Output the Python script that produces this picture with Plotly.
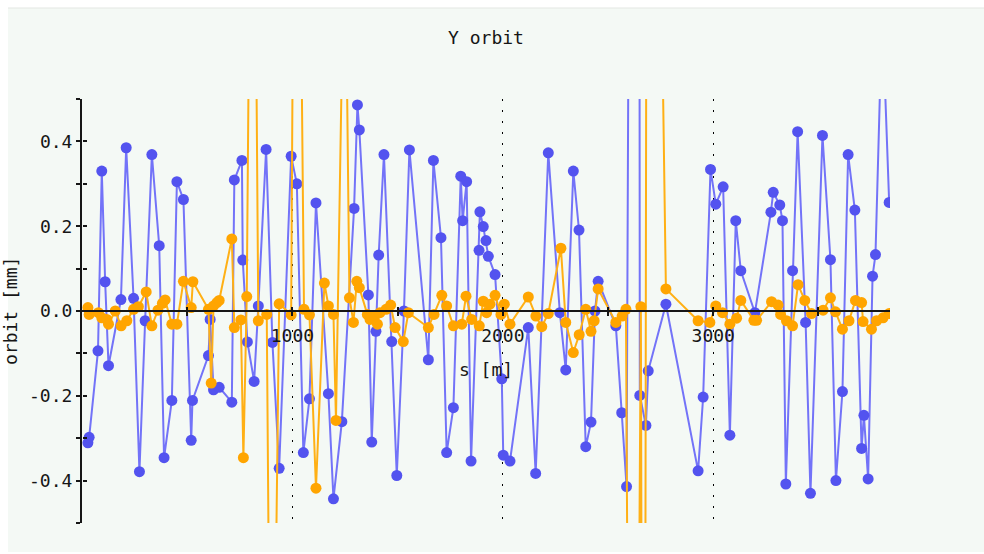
import plotly.graph_objects as go

# Beam position monitors: longitudinal position s [m] and vertical orbit [mm]
blue_s = [28, 34, 76, 94, 110, 126, 185, 210, 245, 273, 300, 332, 367, 390, 427, 451, 482, 519, 525, 601,
          609, 625, 652, 712, 724, 760, 764, 786, 818, 838, 875, 905, 937, 994, 1021, 1052, 1081, 1112, 1171, 1195,
          1235, 1293, 1309, 1318, 1361, 1377, 1397, 1410, 1435, 1472, 1496, 1530, 1556, 1646, 1670, 1706, 1733, 1765, 1800, 1809,
          1828, 1849, 1887, 1891, 1907, 1920, 1931, 1963, 1995, 2002, 2034, 2121, 2156, 2216, 2271, 2299, 2335, 2362, 2394, 2419,
          2438, 2453, 2537, 2565, 2588, 2642, 2651, 2680, 2691, 2775, 2928, 2952, 2987, 3012, 3047, 3079, 3107, 3131, 3198, 3274,
          3285, 3316, 3329, 3345, 3377, 3401, 3439, 3462, 3519, 3557, 3583, 3614, 3641, 3673, 3705, 3716, 3736, 3757, 3771, 3803,
          3836]
blue_y = [-0.311, -0.298, -0.094, 0.330, 0.069, -0.129, 0.027, 0.385, 0.030, -0.379, -0.023, 0.369, 0.154, -0.346, -0.211, 0.305, 0.263, -0.305, -0.211, -0.105,
          -0.020, -0.186, -0.180, -0.215, 0.309, 0.355, 0.120, -0.073, -0.166, 0.012, 0.381, -0.074, -0.371, 0.365, 0.300, -0.334, -0.207, 0.255, -0.195, -0.443,
          -0.261, 0.242, 0.486, 0.427, 0.038, -0.309, -0.048, 0.132, 0.369, -0.072, -0.388, 0.000, 0.380, -0.115, 0.355, 0.173, -0.334, -0.228, 0.318, 0.213,
          0.305, -0.354, 0.143, 0.234, 0.199, 0.166, 0.129, 0.086, -0.160, -0.340, -0.354, -0.039, -0.383, 0.373, -0.004, -0.139, 0.330, 0.191, -0.320, -0.262,
          0.000, 0.070, -0.035, -0.240, -0.414, 6.0, -0.199, -0.270, -0.141, 0.016, -0.377, -0.203, 0.334, 0.252, 0.293, -0.293, 0.213, 0.095, -0.004, 0.233,
          0.280, 0.250, 0.213, -0.408, 0.095, 0.423, -0.027, -0.430, 0.414, 0.121, -0.400, -0.190, 0.369, 0.238, -0.324, -0.246, -0.396, 0.082, 0.133, 0.71,
          0.256]

orange_s = [28, 34, 78, 94, 118, 126, 158, 186, 213, 245, 268, 305, 332, 361, 382, 395, 427, 451, 482, 519,
            527, 601, 614, 625, 641, 652, 712, 724, 755, 767, 783, 811, 838, 878, 901, 937, 994, 1017, 1055, 1081,
            1112, 1152, 1171, 1195, 1207, 1249, 1271, 1290, 1306, 1318, 1356, 1369, 1389, 1404, 1416, 1445, 1467, 1488, 1527, 1551,
            1646, 1673, 1710, 1733, 1765, 1805, 1825, 1852, 1888, 1907, 1923, 1939, 1963, 1991, 2007, 2034, 2121, 2157, 2185, 2216,
            2276, 2299, 2335, 2363, 2394, 2419, 2434, 2453, 2537, 2567, 2585, 2618, 2656, 2670, 2689, 2775, 2928, 2984, 3012, 3044,
            3079, 3111, 3131, 3193, 3206, 3277, 3308, 3320, 3348, 3377, 3403, 3435, 3467, 3522, 3557, 3581, 3614, 3645, 3676, 3705,
            3712, 3752, 3776, 3807, 3836]
orange_y = [0.008, -0.008, -0.004, -0.016, -0.020, -0.031, 0.000, -0.035, -0.023, 0.004, 0.010, 0.045, -0.035, 0.002, 0.018, 0.026, -0.031, -0.031, 0.070, 0.008,
            0.069, 0.004, -0.170, 0.012, 0.020, 0.025, 0.170, -0.039, -0.021, -0.346, 0.034, 1.72, -0.023, -0.008, -1.45, 0.017, -0.009, 1.95, 0.004, -0.009,
            -0.418, 0.066, 0.012, -0.008, -0.258, 1.00, 0.031, -0.027, 0.070, 0.055, -0.008, -0.020, -0.012, -0.031, -0.004, 0.004, 0.014, -0.039, -0.072, -0.004,
            -0.039, -0.008, 0.037, 0.012, -0.035, -0.031, 0.035, -0.020, -0.035, 0.023, -0.004, 0.016, 0.037, -0.008, 0.016, -0.031, 0.033, -0.012, -0.037, -0.006,
            0.148, -0.027, -0.098, -0.056, 0.004, -0.048, -0.023, 0.052, -0.027, -0.012, 0.004, -3.0, 0.010, -3.0, 3.0, 0.052, -0.023, -0.027, 0.012, -0.004,
            -0.031, -0.017, 0.025, -0.022, -0.022, 0.022, 0.014, -0.008, -0.023, -0.035, 0.062, 0.025, -0.006, 0.002, 0.031, -0.002, -0.043, -0.023, 0.025, 0.020,
            -0.025, -0.043, -0.023, -0.016, -0.006]

assert len(blue_s) == len(blue_y), (len(blue_s), len(blue_y))
assert len(orange_s) == len(orange_y), (len(orange_s), len(orange_y))

y_ticks = [-0.5, -0.4, -0.3, -0.2, -0.1, 0.0, 0.1, 0.2, 0.3, 0.4, 0.5]
y_labels = ["", "-0.4", "", "-0.2", "", "0.0", "", "0.2", "", "0.4", ""]
x_ticks = [1000, 2000, 3000]
x_labels = ["1000", "2000", "3000"]
x_minor = [500, 1500, 2500, 3500]

FONT = "DejaVu Sans Mono"
INK = "#161616"
PANEL = "#f4f9f5"
X_RANGE = [0, 3840]
Y_RANGE = [-0.5, 0.5]

W, H = 984, 554
ML, MR, MT, MB = 82, 94, 99, 31
PW, PH = W - ML - MR, H - MT - MB


def px_x(p):
    return (p - ML) / PW


def px_y(p):
    return (H - MB - p) / PH


fig = go.Figure()
fig.add_trace(go.Scatter(
    x=blue_s, y=blue_y, mode="lines+markers",
    line=dict(color="#7373f8", width=2),
    marker=dict(color="#5353ef", size=11),
    showlegend=False, hoverinfo="skip"))
fig.add_trace(go.Scatter(
    x=orange_s, y=orange_y, mode="lines+markers",
    line=dict(color="#ffb015", width=2),
    marker=dict(color="#ffa500", size=11),
    showlegend=False, hoverinfo="skip"))
# empty trace that carries the inward half of the crossing tick marks
fig.add_trace(go.Scatter(x=[None], y=[None], xaxis="x2", yaxis="y2",
                         showlegend=False, hoverinfo="skip"))

tick_font = dict(family=FONT, size=18, color=INK)

fig.update_layout(
    width=W, height=H,
    margin=dict(l=ML, r=MR, t=MT, b=MB),
    paper_bgcolor="white",
    plot_bgcolor="rgba(0,0,0,0)",
    title=dict(text="Y orbit", x=0.5, xref="paper", xanchor="center",
               y=1 - 38 / H, yref="container", yanchor="middle",
               font=dict(family=FONT, size=18, color=INK)),
    xaxis=dict(
        range=X_RANGE, anchor="free", position=0.5,
        showline=True, linecolor=INK, linewidth=2,
        tickmode="array", tickvals=x_ticks, ticktext=x_labels,
        ticks="outside", ticklen=4, tickwidth=2, tickcolor=INK,
        ticklabelstandoff=4,
        minor=dict(tickmode="array", tickvals=x_minor, ticks="outside",
                   ticklen=4, tickwidth=2, tickcolor=INK, showgrid=False),
        showgrid=True, gridcolor="#000000", gridwidth=1, griddash="2px,9px",
        zeroline=False, tickfont=tick_font, automargin=False,
        title=dict(text="s [m]", font=tick_font, standoff=18),
    ),
    yaxis=dict(
        range=Y_RANGE, showline=True, linecolor=INK, linewidth=2,
        tickmode="array", tickvals=y_ticks, ticktext=y_labels,
        ticks="outside", ticklen=4, tickwidth=2, tickcolor=INK,
        showgrid=False, zeroline=False, tickfont=tick_font, automargin=False,
    ),
    xaxis2=dict(
        range=X_RANGE, overlaying="x", anchor="free", position=0.5,
        showline=False, tickmode="array", tickvals=x_ticks,
        ticks="inside", ticklen=4, tickwidth=2, tickcolor=INK,
        minor=dict(tickmode="array", tickvals=x_minor, ticks="inside",
                   ticklen=4, tickwidth=2, tickcolor=INK, showgrid=False),
        showticklabels=False, showgrid=False, zeroline=False,
    ),
    yaxis2=dict(
        range=Y_RANGE, overlaying="y", anchor="free", position=0, side="left",
        showline=False, tickmode="array", tickvals=y_ticks,
        ticks="inside", ticklen=4, tickwidth=2, tickcolor=INK,
        showticklabels=False, showgrid=False, zeroline=False,
    ),
    shapes=[
        dict(type="rect", xref="paper", yref="paper", layer="below",
             x0=px_x(8), x1=px_x(W + 2), y0=px_y(552), y1=px_y(8),
             fillcolor=PANEL, line=dict(width=0)),
        dict(type="line", xref="paper", yref="paper", layer="below",
             x0=px_x(8), x1=px_x(W + 2), y0=px_y(8), y1=px_y(8),
             line=dict(color="#e3e7e3", width=1)),
    ],
    annotations=[
        dict(text="orbit [mm]", textangle=-90, xref="paper", yref="paper",
             x=px_x(10), y=0.5, xanchor="center", yanchor="middle",
             showarrow=False, font=tick_font),
    ],
)

fig.write_html("out.html")
